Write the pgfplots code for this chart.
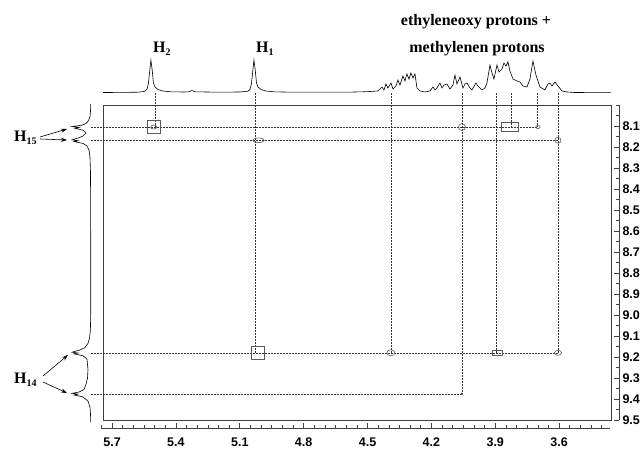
\documentclass[border=0pt]{standalone}
\usepackage{fontspec}
\setmainfont{Liberation Serif}
\setsansfont{Liberation Sans}
\usepackage{pgfplots}
\pgfplotsset{compat=1.18}
\usetikzlibrary{arrows.meta}

\pgfdeclareplotmark{rsq}{{%
  \pgfsetcornersarced{\pgfpoint{0.5\pgfplotmarksize}{0.5\pgfplotmarksize}}%
  \pgfpathmoveto{\pgfpoint{-\pgfplotmarksize}{0pt}}%
  \pgfpathlineto{\pgfpoint{-\pgfplotmarksize}{\pgfplotmarksize}}%
  \pgfpathlineto{\pgfpoint{\pgfplotmarksize}{\pgfplotmarksize}}%
  \pgfpathlineto{\pgfpoint{\pgfplotmarksize}{-\pgfplotmarksize}}%
  \pgfpathlineto{\pgfpoint{-\pgfplotmarksize}{-\pgfplotmarksize}}%
  \pgfpathclose
  \pgfusepathqstroke}}

\tikzset{cpm/.style={solid, draw=black!65, line width=0.6pt, fill=none}}
\pgfplotsset{
  dl/.style={black!80, line width=0.5pt, dash pattern=on 2pt off 1pt},
  spec/.style={black, line width=0.6pt, mark=none},
  tl/.style={font=\sffamily\bfseries\fontsize{12.5}{12.5}\selectfont,
    /pgf/number format/fixed, /pgf/number format/fixed zerofill,
    /pgf/number format/precision=1, /pgf/number format/assume math mode=true},
}
\newcommand\hlab[1]{H\raisebox{-0.45ex}{\fontsize{10}{10}\selectfont\bfseries #1}}

\begin{document}
\begin{tikzpicture}[x=1pt,y=1pt]
\path[use as bounding box] (0,0) rectangle (642,448);

% ---------- main 2D map ----------
\begin{axis}[
  at={(103pt,28pt)}, anchor=south west,
  scale only axis, width=508pt, height=315pt,
  xmin=3.356, xmax=5.742, x dir=reverse,
  ymin=8.0, ymax=9.5, y dir=reverse,
  xtick=\empty, ytick=\empty,
  axis line style={black!75, line width=0.6pt},
  clip=false,
]
% vertical dashed lines
\addplot[dl] coordinates {(5.498,7.943) (5.498,8.105)};
\addplot[dl] coordinates {(5.028,7.943) (5.028,9.180)};
\addplot[dl] coordinates {(4.390,7.943) (4.390,9.180)};
\addplot[dl] coordinates {(4.056,7.943) (4.056,9.375)};
\addplot[dl] coordinates {(3.896,7.943) (3.896,9.180)};
\addplot[dl] coordinates {(3.826,7.943) (3.826,8.105)};
\addplot[dl] coordinates {(3.704,7.943) (3.704,8.105)};
\addplot[dl] coordinates {(3.605,7.943) (3.605,9.180)};
% horizontal dashed lines
\addplot[dl] coordinates {(5.799,8.105) (3.704,8.105)};
\addplot[dl] coordinates {(5.799,8.168) (3.605,8.168)};
\addplot[dl] coordinates {(5.799,9.180) (3.605,9.180)};
\addplot[dl] coordinates {(5.799,9.375) (4.056,9.375)};
% cross peaks
\addplot[only marks, mark=rsq, mark size=6.6pt, mark options={cpm}] coordinates {(5.504,8.105)};
\addplot[only marks, mark=o, mark size=2pt, mark options={cpm, xscale=1.5}] coordinates {(5.504,8.105)};
\addplot[only marks, mark=o, mark size=2.4pt, mark options={cpm, xscale=2.4}] coordinates {(5.012,8.168)};
\addplot[only marks, mark=rsq, mark size=6.2pt, mark options={cpm}] coordinates {(5.014,9.180)};
\addplot[only marks, mark=o, mark size=3pt, mark options={cpm, xscale=1.35}] coordinates {(4.390,9.180)};
\addplot[only marks, mark=o, mark size=3.5pt, mark options={cpm}] coordinates {(4.056,8.105)};
\addplot[only marks, mark=*, mark size=1pt, mark options={solid, black!70}] coordinates {(4.056,9.375)};
\addplot[only marks, mark=rsq, mark size=2.6pt, mark options={cpm, xscale=1.9}] coordinates {(3.892,9.180)};
\addplot[only marks, mark=rsq, mark size=4.5pt, mark options={cpm, xscale=1.9}] coordinates {(3.830,8.105)};
\addplot[only marks, mark=o, mark size=1.5pt, mark options={cpm, xscale=1.4}] coordinates {(3.699,8.105)};
\addplot[only marks, mark=o, mark size=3pt, mark options={cpm}] coordinates {(3.605,8.168)};
\addplot[only marks, mark=o, mark size=2.5pt, mark options={cpm, xscale=1.4}] coordinates {(3.605,9.180)};
\end{axis}

% ---------- top 1D spectrum ----------
\begin{axis}[
  at={(103pt,355pt)}, anchor=south west,
  scale only axis, width=508pt, height=40pt,
  xmin=3.356, xmax=5.742, x dir=reverse,
  ymin=0, ymax=40, hide axis, clip=false,
]
\addplot[spec] coordinates {
(5.742,0.5)(5.65,0.6)(5.58,0.8)(5.56,1.2)(5.545,1.8)(5.536,3.5)(5.529,9)(5.523,21)(5.517,33)(5.511,23)(5.505,10)(5.498,6)(5.484,3.5)(5.461,2)(5.423,1.2)(5.36,1)(5.34,1.2)(5.324,2.5)(5.31,1.2)(5.2,0.8)(5.1,1)(5.061,1.8)(5.052,3.5)(5.045,9)(5.039,21)(5.033,33)(5.027,23)(5.021,10)(5.014,6)(5.0,3.5)(4.977,2)(4.94,1.2)(4.85,0.8)(4.6,0.8)(4.52,1.2)
(4.4882,1.5)(4.4506,2)(4.4318,6)(4.4224,3)(4.4130,9)(4.4036,5)(4.3895,10)(4.3801,4)(4.3660,7)(4.3566,13)(4.3472,8)(4.3332,17)(4.3238,12)(4.3144,19)(4.3050,14)(4.2956,20)(4.2862,15)(4.2768,19)(4.2674,5)(4.2533,2)(4.2298,1)(4.2063,2)(4.1922,6)(4.1828,3)(4.1735,5)(4.1594,10)(4.1500,5)(4.1406,8)(4.1265,9)(4.1124,4)(4.0983,8)(4.0889,18)(4.0795,9)(4.0654,16)(4.0513,5)(4.0419,9)(4.0325,10)(4.0184,5)(4.0091,3)(3.9903,10)(3.9809,7)(3.9715,5)(3.9621,3)(3.9480,5)(3.9386,10)(3.9245,28)(3.9151,20)(3.9057,14)(3.8916,28)(3.8823,21)(3.8682,24)(3.8588,30)(3.8494,27)(3.8400,31)(3.8306,22)(3.8165,14)(3.7977,12)(3.7836,11)(3.7695,7)(3.7507,6)(3.7366,14)(3.7225,32)(3.7085,18)(3.6897,6)(3.6662,3)(3.6521,9)(3.6427,10)(3.6333,7)(3.6192,11)(3.6051,7)(3.5863,2)(3.5628,1)(3.5253,0.5)(3.356,0.3)
};
\end{axis}

% ---------- left 1D spectrum ----------
\begin{axis}[
  at={(71pt,28pt)}, anchor=south west,
  scale only axis, width=20pt, height=315pt,
  xmin=0, xmax=20, x dir=reverse,
  ymin=8.0, ymax=9.5, y dir=reverse,
  hide axis, clip=false,
]
\addplot[spec] coordinates {
(0.3,7.995)(0.5,8.03)(1,8.055)(2.5,8.075)(5,8.088)(9,8.096)(19,8.103)(12,8.107)(16,8.111)(8,8.12)(5,8.133)(8,8.148)(12,8.156)(19,8.166)(13,8.170)(17,8.174)(8,8.183)(4,8.195)(2,8.215)(1,8.25)(0.5,8.32)(0.3,8.6)(0.3,9.0)(0.6,9.07)(1.5,9.11)(3,9.135)(6,9.155)(12,9.168)(19,9.177)(13,9.181)(17,9.185)(8,9.194)(4,9.21)(3,9.26)(3.5,9.30)(5,9.33)(7,9.355)(12,9.367)(19,9.373)(13,9.377)(17,9.381)(8,9.39)(3,9.41)(1,9.44)(0.5,9.47)(0.3,9.51)
};
\end{axis}

% ---------- bottom ppm axis ----------
\begin{axis}[
  at={(101pt,20pt)}, anchor=south west,
  scale only axis, width=509pt, height=10pt,
  xmin=3.361, xmax=5.752, x dir=reverse, ymin=0, ymax=1,
  axis x line*=bottom, hide y axis,
  xtick={3.6,3.9,4.2,4.5,4.8,5.1,5.4,5.7},
  minor xtick={3.4,3.45,...,5.75},
  tick align=inside, major tick length=5pt, minor tick length=3pt,
  every tick/.style={black!75, line width=0.6pt},
  axis line style={black!75, line width=0.6pt},
  xticklabel style={yshift=-6pt, tl},
]
\addplot[draw=none] coordinates {(4.5,0.5)};
\end{axis}

% ---------- right ppm axis ----------
\begin{axis}[
  at={(619pt,28pt)}, anchor=south east,
  scale only axis, width=10pt, height=315pt,
  ymin=8.0, ymax=9.5, y dir=reverse, xmin=0, xmax=1,
  axis y line*=right, hide x axis,
  ytick={8.1,8.2,8.3,8.4,8.5,8.6,8.7,8.8,8.9,9.0,9.1,9.2,9.3,9.4,9.5},
  minor ytick={8.0,8.05,8.15,8.25,8.35,8.45,8.55,8.65,8.75,8.85,8.95,9.05,9.15,9.25,9.35,9.45},
  tick align=inside, major tick length=5pt, minor tick length=3pt,
  every tick/.style={black!75, line width=0.6pt},
  axis line style={black!75, line width=0.6pt},
  yticklabel style={tl},
]
\addplot[draw=none] coordinates {(0.5,9)};
\end{axis}

% ---------- annotations ----------
\node[font=\bfseries\fontsize{16}{18}\selectfont] at (476,426) {ethyleneoxy protons +};
\node[font=\bfseries\fontsize{16}{18}\selectfont] at (477,399) {methylenen protons};
\node[font=\bfseries\fontsize{16}{18}\selectfont, anchor=west, inner sep=0pt] at (153,399) {\hlab{2}};
\node[font=\bfseries\fontsize{16}{18}\selectfont, anchor=west, inner sep=0pt] at (256,399) {\hlab{1}};
\node[font=\bfseries\fontsize{16}{18}\selectfont, anchor=west, inner sep=0pt] at (14,310) {\hlab{15}};
\node[font=\bfseries\fontsize{16}{18}\selectfont, anchor=west, inner sep=0pt] at (14,68) {\hlab{14}};
\draw[-{Stealth[length=6pt,width=4pt]}, line width=0.6pt] (40,311) -- (67,319);
\draw[-{Stealth[length=6pt,width=4pt]}, line width=0.6pt] (40,309) -- (67,308);
\draw[-{Stealth[length=6pt,width=4pt]}, line width=0.6pt] (43,72) -- (68,93);
\draw[-{Stealth[length=6pt,width=4pt]}, line width=0.6pt] (43,66) -- (67,55);
\end{tikzpicture}
\end{document}
